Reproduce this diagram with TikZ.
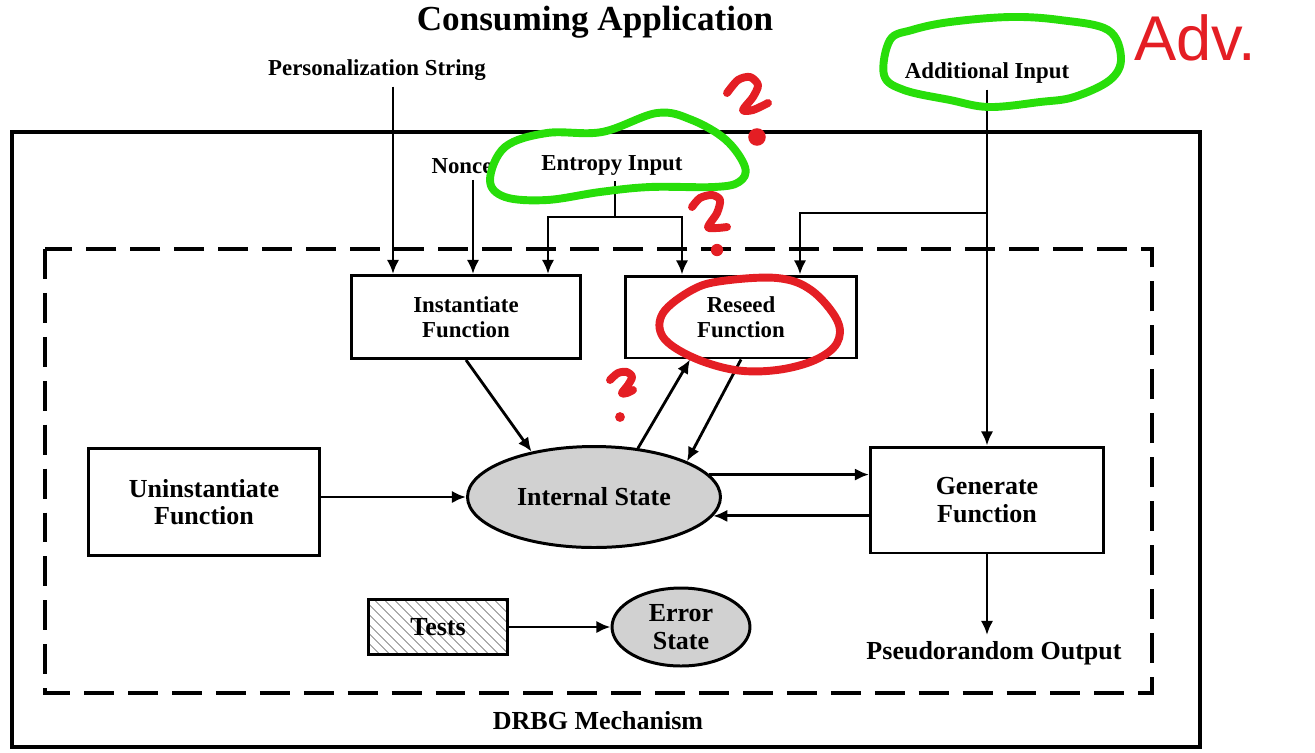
\documentclass[tikz,border=0pt]{standalone}
\usepackage{fontspec}
\setmainfont{Liberation Serif}
\setsansfont{Liberation Sans}
\usetikzlibrary{arrows.meta, calc, patterns.meta, shapes.geometric}
\definecolor{markgreen}{RGB}{40,222,10}
\definecolor{markred}{RGB}{228,30,36}

\begin{document}
\begin{tikzpicture}[
  x=0.02cm,
  y=-0.02cm, % <-- pixel grid, y grows downwards
  >={Latex[length=8pt,width=7pt]},
  every node/.style={font=\bfseries\fontsize{13}{14}\selectfont, align=center},
  big/.style={font=\bfseries\fontsize{14.8}{15.5}\selectfont},
  fnbox/.style={draw, line width=1.7pt, inner sep=0pt},
  stateoval/.style={draw, ellipse, fill=black!18, line width=1.7pt, inner sep=0pt, big},
  flow/.style={->, line width=1.6pt},
  scrawl/.style={line width=4.5pt, line cap=round, line join=round}
]

\useasboundingbox (0,0) rectangle (1315,752);

% Outer frame and mechanism boundary
\draw[line width=2.8pt] (12,132) rectangle (1200,747);
\draw[line width=1.9pt, dash pattern=on 17pt off 8pt] (45,249) rectangle (1152,693);
\node (title) at (595,22) {\fontsize{20}{22}\selectfont Consuming Application};
\node[big] (drbg) at (598,721) {DRBG Mechanism};

% Functions and states
\node[fnbox, minimum width=4.6cm, minimum height=1.66cm] (inst) at (466,317) {Instantiate\\Function};
\node[fnbox, minimum width=4.64cm, minimum height=1.64cm] (reseed) at (741,317) {Reseed\\Function};
\node[fnbox, big, minimum width=4.64cm, minimum height=2.14cm] (uninst) at (204,502) {Uninstantiate\\Function};
\node[fnbox, big, minimum width=4.66cm, minimum height=2.12cm] (gen) at (987,500) {Generate\\Function};
\node[stateoval, minimum width=5.06cm, minimum height=2.02cm] (state) at (594,497) {Internal State};
\node[fnbox, big, pattern={Lines[angle=-45,distance=4pt,line width=0.5pt]}, pattern color=gray,
  minimum width=2.78cm, minimum height=1.1cm] (tests) at (438,627) {Tests};
\node[stateoval, minimum width=2.76cm, minimum height=1.56cm] (error) at (681,627) {Error\\State};

% Inputs and output
\node (pers) at (377,70) {Personalization String};
\node (nonce) at (462,166) {Nonce};
\node (entropy) at (612,165) {Entropy Input};
\node (addin) at (987,73) {Additional Input};
\node[big] (prout) at (994,653) {Pseudorandom Output};

\coordinate (pers-in) at ($(inst.north)+(-73,0)$);
\coordinate (nonce-in) at ($(inst.north)+(7,0)$);
\coordinate (ent-in) at ($(inst.north)+(82,0)$);
\coordinate (ent-rs) at ($(reseed.north)+(-59,0)$);
\coordinate (add-rs) at ($(reseed.north)+(59,0)$);
\coordinate (ent-split) at (615,217);
\coordinate (add-split) at (987,213);

\draw[flow] (pers.south -| pers-in) -- (pers-in);
\draw[flow] (nonce.south -| nonce-in) -- (nonce-in);
\draw[line width=1.6pt] (entropy.south -| ent-split) -- (ent-split);
\draw[flow] (ent-split) -| (ent-in);
\draw[flow] (ent-split) -| (ent-rs);
\draw[flow] (addin.south) -- (gen.north);
\draw[flow] (add-split) -| (add-rs);

% Traffic around the internal state
\draw[flow] (inst.south) -- (state.144);
\draw[flow] (state.48) -- ($(reseed.south)+(-51,0)$);
\draw[flow] (reseed.south) -- (state.21);
\draw[flow] (uninst.east |- state.west) -- (state.west);
\draw[flow] (state.11) -- (state.11 -| gen.west);
\draw[flow] (gen.west |- state.351) -- (state.351);
\draw[flow] (tests) -- (error);
\draw[flow] (gen.south) -- (gen.south |- prout.north);

% --- Handwritten marks ---
\draw[markgreen, scrawl] plot[smooth cycle, tension=0.6] coordinates {(490,180) (505,147) (547,133) (602,132) (657,113) (692,120) (726,140) (745,167) (739,182) (714,187) (650,187) (600,192) (547,200) (505,197)};
\draw[markgreen, scrawl] plot[smooth cycle, tension=0.6] coordinates {(890,40) (884,75) (904,90) (950,100) (989,107) (1040,102) (1074,97) (1110,80) (1121,58) (1108,30) (1060,20) (1010,17) (950,22) (912,30)};
\draw[markred, scrawl] plot[smooth cycle, tension=0.6] coordinates {(722,281) (777,278) (811,290) (837,320) (837,343) (815,360) (777,370) (735,370) (692,357) (663,337) (663,313) (692,290)};
\node[markred, font=\sffamily\fontsize{36}{36}\selectfont] (adv) at (1195,38) {Adv.};

\draw[markred, scrawl] plot[smooth] coordinates {(727,93) (738,80) (750,77) (758,85) (753,97) (743,110) (753,110) (768,103)};
\fill[markred] (757,137) circle (5pt);
\draw[markred, scrawl] plot[smooth] coordinates {(692,207) (700,198) (712,195) (720,200) (717,213) (708,227) (717,228) (727,227)};
\fill[markred] (717,250) circle (3.5pt);
\draw[markred, scrawl] plot[smooth] coordinates {(610,380) (618,373) (627,372) (632,377) (628,385) (622,393) (627,393) (633,390)};
\fill[markred] (620,417) circle (2.8pt);

\end{tikzpicture}
\end{document}
